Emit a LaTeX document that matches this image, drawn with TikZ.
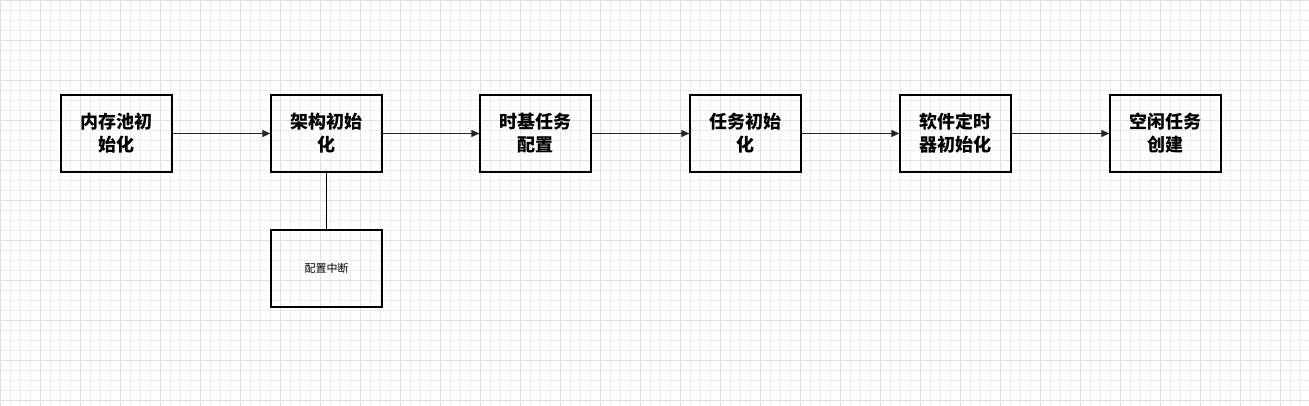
\documentclass[tikz,border=0pt]{standalone}
\usepackage{fontspec}
\newfontfamily\cjk{Noto Sans CJK SC}
\usetikzlibrary{positioning,arrows.meta}
\begin{document}
\begin{tikzpicture}[x=1pt,y=-1pt,font=\cjk,
    step box/.style={draw,line width=1.3pt,minimum width=111pt,minimum height=77pt,align=center,font=\cjk\bfseries\fontsize{18}{23}\selectfont},
    sub box/.style={draw,line width=1.3pt,minimum width=111pt,minimum height=77pt,font=\cjk\fontsize{11}{13}\selectfont},
    flow/.style={-{Triangle[length=8pt,width=7pt]},line width=1.1pt,draw=black!85}]
    \useasboundingbox (0,0) rectangle (1309,406);
    % grid
    \foreach \x in {0,10,...,1300} \draw[black!7] (\x,0) -- (\x,406);
    \foreach \y in {0,10,...,400} \draw[black!7] (0,\y) -- (1309,\y);
    \foreach \x in {0,40,...,1300} \draw[black!12] (\x,0) -- (\x,406);
    \foreach \y in {0,40,...,400} \draw[black!12] (0,\y) -- (1309,\y);

    \node[step box] (pool) at (116.5,133.5) {内存池初\\始化};
    \node[step box,right=210pt of pool.center,anchor=center] (arch) {架构初始\\化};
    \node[step box,right=209pt of arch.center,anchor=center] (tick) {时基任务\\配置};
    \node[step box,right=210pt of tick.center,anchor=center] (task) {任务初始\\化};
    \node[step box,right=210pt of task.center,anchor=center] (timer) {软件定时\\器初始化};
    \node[step box,right=210pt of timer.center,anchor=center] (idle) {空闲任务\\创建};
    \node[sub box,below=135pt of arch.center,anchor=center] (irq) {配置中断};

    \draw[flow] (pool) -- (arch);
    \draw[flow] (arch) -- (tick);
    \draw[flow] (tick) -- (task);
    \draw[flow] (task) -- (timer);
    \draw[flow] (timer) -- (idle);
    \draw[line width=1.1pt] (arch) -- (irq);
\end{tikzpicture}
\end{document}
